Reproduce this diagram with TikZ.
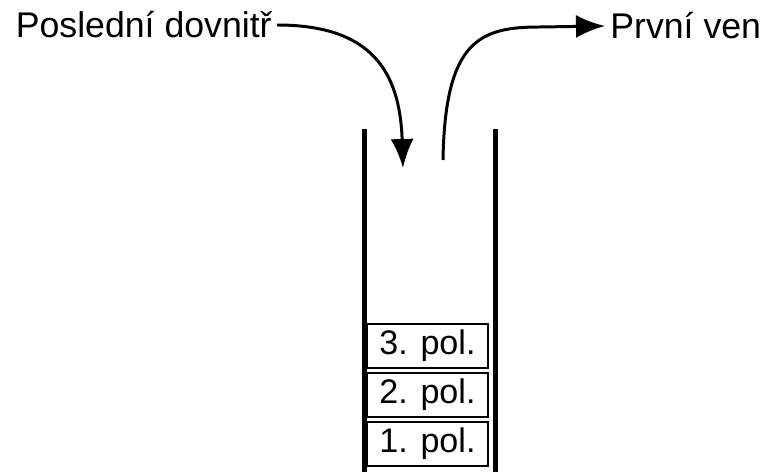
\documentclass[tikz,border=0pt]{standalone}
\usepackage{fontspec}
\setmainfont{Liberation Sans}
\usetikzlibrary{positioning,arrows.meta}

\tikzset{
    wall/.style={line width=0.1cm},
    item/.style={draw, line width=0.8pt, minimum width=2.42cm, minimum height=0.88cm, inner sep=0pt},
    caption/.style={inner xsep=0.1cm, inner ysep=0pt, font=\fontsize{20.3}{24}\selectfont},
    flow/.style={line width=1.7pt, -{Latex[length=0.58cm, width=0.46cm]}}
}

\begin{document}
\begin{tikzpicture}[font=\fontsize{19.4}{23}\selectfont]
    \useasboundingbox (0,0) rectangle (15.3,9.44);

    % Stack walls
    \draw[wall] (7.29,0) -- (7.29,6.86);
    \draw[wall] (9.91,0) -- (9.91,6.86);

    % Items
    \node[item] (p1) at (8.55,0.56) {1. pol.};
    \node[item, above=0.07cm of p1] (p2) {2. pol.};
    \node[item, above=0.07cm of p2] (p3) {3. pol.};

    % Push and pop
    \node[caption, anchor=east] (in) at (5.54,8.94) {Poslední dovnitř};
    \node[caption, anchor=west] (out) at (12.1,8.92) {První ven};
    \coordinate (drop) at (8.06,6.08);
    \coordinate (lift) at (8.86,6.24);

    \draw[flow] (in.east) .. controls (7.4,8.94) and (8.0,8.04) .. (drop);
    \draw[flow] (lift) .. controls (8.9,8.64) and (9.6,8.9) .. (10.8,8.9) -- (out.west);
\end{tikzpicture}
\end{document}
